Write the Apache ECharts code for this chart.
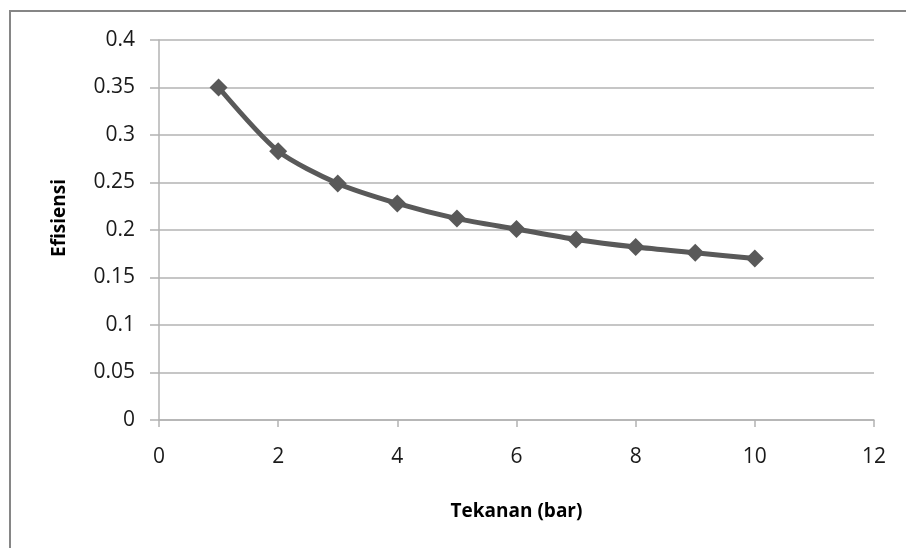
<!DOCTYPE html>
<html>
<head>
<meta charset="utf-8">
<script src="https://cdn.jsdelivr.net/npm/echarts@6/dist/echarts.min.js"></script>
<style>
html,body{margin:0;padding:0;background:#fff;}
#chart{width:906px;height:548px;}
</style>
</head>
<body>
<div id="chart"></div>
<script>
var pressure = [1, 2, 3, 4, 5, 6, 7, 8, 9, 10];
var efficiency = [0.350, 0.283, 0.249, 0.228, 0.212, 0.201, 0.190, 0.182, 0.176, 0.170];
var xTicks = [0, 2, 4, 6, 8, 10, 12];
var yTicks = [0, 0.05, 0.1, 0.15, 0.2, 0.25, 0.3, 0.35, 0.4];

var chart = echarts.init(document.getElementById('chart'));
var font = 'Open Sans';
chart.setOption({
  animation: false,
  backgroundColor: '#fff',
  graphic: [{
    type: 'rect',
    shape: {x: 10, y: 11, width: 1000, height: 1000},
    style: {fill: 'none', stroke: '#868686', lineWidth: 2},
    silent: true
  }],
  grid: {left: 159, top: 40, right: 32, bottom: 128, containLabel: false},
  xAxis: {
    type: 'value',
    min: xTicks[0],
    max: xTicks[xTicks.length - 1],
    interval: 2,
    name: 'Tekanan (bar)',
    nameLocation: 'middle',
    nameGap: 82,
    nameTextStyle: {fontFamily: font, fontWeight: 'bold', fontSize: 19, color: '#000'},
    axisLine: {onZero: false, lineStyle: {color: '#b3b3b3', width: 1.5}},
    axisTick: {show: true, length: 7, lineStyle: {color: '#b3b3b3', width: 1.5}},
    axisLabel: {fontFamily: font, fontSize: 21, color: '#1a1a1a', margin: 27},
    splitLine: {show: false}
  },
  yAxis: {
    type: 'value',
    min: yTicks[0],
    max: yTicks[yTicks.length - 1],
    interval: 0.05,
    name: 'Efisiensi',
    nameLocation: 'middle',
    nameGap: 90,
    nameTextStyle: {fontFamily: font, fontWeight: 'bold', fontSize: 19, color: '#000', padding: [0, 0, 0, 24]},
    axisLine: {show: true, lineStyle: {color: '#b3b3b3', width: 1.5}},
    axisTick: {show: true, length: 9, lineStyle: {color: '#b3b3b3', width: 1.5}},
    axisLabel: {fontFamily: font, fontSize: 21, color: '#1a1a1a', margin: 24,
      formatter: function (v) { return String(parseFloat(v.toFixed(2))); }},
    splitLine: {show: true, lineStyle: {color: '#b3b3b3', width: 1.5}}
  },
  series: [{
    type: 'line',
    data: pressure.map(function (p, i) { return [p, efficiency[i]]; }),
    smooth: 0.25,
    symbol: 'diamond',
    symbolSize: 18,
    lineStyle: {color: '#595959', width: 5},
    itemStyle: {color: '#595959'}
  }]
});
</script>
</body>
</html>
